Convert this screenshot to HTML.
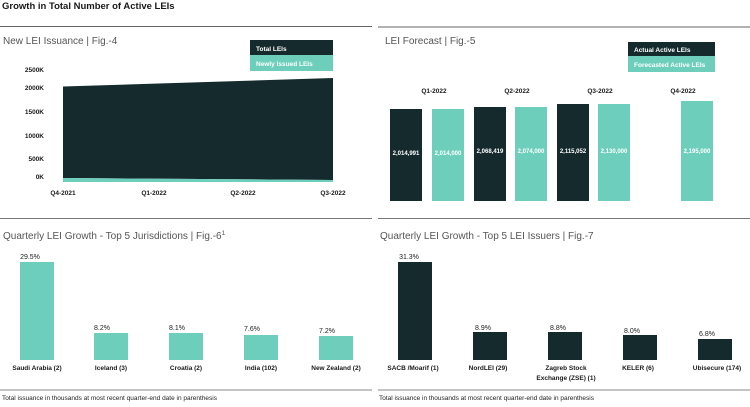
<!DOCTYPE html>
<html><head><meta charset="utf-8"><style>
html,body{margin:0;padding:0;background:#fff;}
svg{display:block;font-family:"Liberation Sans",sans-serif;}
.b{font-weight:bold;fill:#1a1a1a;}
</style></head><body>
<svg width="750" height="407" viewBox="0 0 750 407">
<rect width="750" height="407" fill="#fff"/>
<text x="2" y="9" font-size="9.5" class="b">Growth in Total Number of Active LEIs</text>
<line x1="0" y1="26.5" x2="372" y2="26.5" stroke="#666" stroke-width="1"/>
<line x1="378" y1="27" x2="750" y2="27" stroke="#666" stroke-width="1"/>

<!-- Fig 4 -->
<text x="3" y="44" font-size="10" fill="#555">New LEI Issuance | Fig.-4</text>
<rect x="250" y="40" width="83" height="15" fill="#142a2c"/>
<rect x="250" y="55" width="83" height="16" fill="#6dcfbb"/>
<text x="256" y="51" font-size="6.5" font-weight="bold" fill="#fff">Total LEIs</text>
<text x="256" y="66" font-size="6.5" font-weight="bold" fill="#fff">Newly Issued LEIs</text>
<g font-size="6.5" class="b" text-anchor="end">
<text x="44" y="72">2500K</text><text x="44" y="90">2000K</text><text x="44" y="114">1500K</text>
<text x="44" y="138">1000K</text><text x="44" y="161">500K</text><text x="44" y="179">0K</text>
</g>
<polygon points="63,86.5 333,78 333,180 63,178" fill="#142a2c"/>
<polygon points="63,178 333,180 333,182 63,182" fill="#6dcfbb"/>
<g font-size="6.5" class="b" text-anchor="middle">
<text x="63" y="195">Q4-2021</text><text x="154" y="195">Q1-2022</text><text x="243" y="195">Q2-2022</text><text x="333" y="195">Q3-2022</text>
</g>

<!-- Fig 5 -->
<text x="385" y="44" font-size="10" fill="#555">LEI Forecast | Fig.-5</text>
<rect x="628" y="42" width="87" height="14" fill="#142a2c"/>
<rect x="628" y="56" width="87" height="16" fill="#6dcfbb"/>
<text x="634" y="52" font-size="6.5" font-weight="bold" fill="#fff">Actual Active LEIs</text>
<text x="634" y="67" font-size="6.5" font-weight="bold" fill="#fff">Forecasted Active LEIs</text>
<g font-size="6.5" class="b" text-anchor="middle">
<text x="434" y="93">Q1-2022</text><text x="517" y="93">Q2-2022</text><text x="600" y="93">Q3-2022</text><text x="683" y="93">Q4-2022</text>
</g>
<rect x="390" y="109" width="32" height="92" fill="#142a2c"/>
<rect x="432" y="109" width="32" height="92" fill="#6dcfbb"/>
<rect x="474" y="107" width="32" height="94" fill="#142a2c"/>
<rect x="515" y="107" width="32" height="94" fill="#6dcfbb"/>
<rect x="557" y="104" width="32" height="97" fill="#142a2c"/>
<rect x="598" y="104" width="32" height="97" fill="#6dcfbb"/>
<rect x="681" y="101" width="32" height="100" fill="#6dcfbb"/>
<g font-size="6" font-weight="bold" fill="#fff" text-anchor="middle">
<text x="406" y="155">2,014,991</text><text x="448" y="155">2,014,000</text>
<text x="490" y="153">2,068,419</text><text x="531" y="153">2,074,000</text>
<text x="573" y="153">2,115,052</text><text x="614" y="153">2,130,000</text>
<text x="697" y="153">2,195,000</text>
</g>

<line x1="0" y1="218.5" x2="372" y2="218.5" stroke="#777" stroke-width="1"/>
<line x1="378" y1="218.5" x2="750" y2="218.5" stroke="#777" stroke-width="1"/>

<!-- Fig 6 -->
<text x="3" y="239" font-size="10" fill="#555">Quarterly LEI Growth - Top 5 Jurisdictions | Fig.-6<tspan font-size="6.5" dy="-4">1</tspan></text>
<g fill="#6dcfbb">
<rect x="20" y="262" width="34" height="98"/><rect x="94" y="333" width="34" height="27"/>
<rect x="169" y="333" width="34" height="27"/><rect x="244" y="335" width="34" height="25"/>
<rect x="319" y="336" width="34" height="24"/>
</g>
<g font-size="7" fill="#222" text-anchor="middle">
<text x="30" y="259">29.5%</text><text x="102" y="330">8.2%</text><text x="177" y="330">8.1%</text>
<text x="252" y="331">7.6%</text><text x="327" y="333">7.2%</text>
</g>
<g font-size="6.5" class="b" text-anchor="middle">
<text x="37" y="370">Saudi Arabia (2)</text><text x="111" y="370">Iceland (3)</text><text x="186" y="370">Croatia (2)</text>
<text x="261" y="370">India (102)</text><text x="336" y="370">New Zealand (2)</text>
</g>
<line x1="0" y1="390" x2="372" y2="390" stroke="#888" stroke-width="1"/>
<text x="2" y="400" font-size="6.5" fill="#222">Total issuance in thousands at most recent quarter-end date in parenthesis</text>

<!-- Fig 7 -->
<text x="380" y="239" font-size="10" fill="#555">Quarterly LEI Growth - Top 5 LEI Issuers | Fig.-7</text>
<g fill="#142a2c">
<rect x="398" y="262" width="34" height="98"/><rect x="473" y="332" width="34" height="28"/>
<rect x="548" y="332" width="34" height="28"/><rect x="623" y="335" width="34" height="25"/>
<rect x="698" y="339" width="34" height="21"/>
</g>
<g font-size="7" fill="#222" text-anchor="middle">
<text x="409" y="259">31.3%</text><text x="483" y="330">8.9%</text><text x="558" y="330">8.8%</text>
<text x="632" y="333">8.0%</text><text x="707" y="336">6.8%</text>
</g>
<g font-size="6.5" class="b" text-anchor="middle">
<text x="413" y="370">SACB /Moarif (1)</text><text x="488" y="370">NordLEI (29)</text>
<text x="566" y="370">Zagreb Stock</text><text x="566" y="380">Exchange (ZSE) (1)</text>
<text x="638" y="370">KELER (6)</text><text x="717" y="370">Ubisecure (174)</text>
</g>
<line x1="378" y1="390" x2="750" y2="390" stroke="#888" stroke-width="1"/>
<text x="379" y="400" font-size="6.5" fill="#222">Total issuance in thousands at most recent quarter-end date in parenthesis</text>
</svg>
</body></html>
